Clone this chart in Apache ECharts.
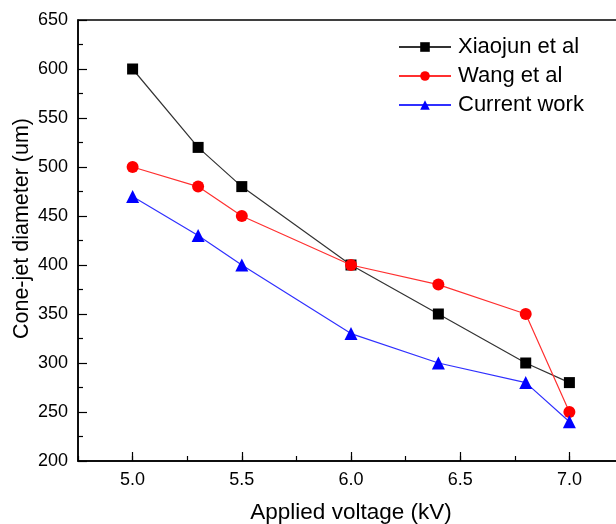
<!DOCTYPE html>
<html>
<head>
<meta charset="utf-8">
<script src="https://cdn.jsdelivr.net/npm/echarts@6/dist/echarts.min.js"></script>
<style>
  html, body { margin: 0; padding: 0; background: #fff; overflow: hidden; }
  #chart { width: 624px; height: 524px; }
</style>
</head>
<body>
<div id="chart"></div>
<script>
// Applied voltage (kV) for each measurement
const voltages = [5.0, 5.3, 5.5, 6.0, 6.4, 6.8, 7.0];
// Cone-jet diameter (um) per data source
const xiaojun = [600, 520, 480, 400, 350, 300, 280];
const wang = [500, 480, 450, 400, 380, 350, 250];
const currentWork = [470, 430, 400, 330, 300, 280, 240];

const seriesNames = ['Xiaojun et al', 'Wang et al', 'Current work'];
// Labelled voltage ticks
const voltageTicks = [5.0, 5.5, 6.0, 6.5, 7.0];

const pairs = (ys) => voltages.map((v, i) => [v, ys[i]]);

const font = 'Liberation Sans, Arial, sans-serif';

const chart = echarts.init(document.getElementById('chart'), null, { renderer: 'canvas' });

chart.setOption({
  backgroundColor: '#ffffff',
  animation: false,
  grid: {
    left: 78, right: 0, top: 20, bottom: 63,
    containLabel: false, outerBoundsMode: 'none',
    show: true, borderColor: '#000', borderWidth: 1.5, backgroundColor: 'transparent'
  },
  legend: {
    orient: 'vertical',
    left: 393, top: 31,
    itemWidth: 52, itemHeight: 12, itemGap: 7,
    textStyle: { fontFamily: font, fontSize: 22, color: '#000', padding: [0, 0, 0, 2] },
    data: seriesNames
  },
  xAxis: [
    {
      type: 'value',
      min: 4.75, max: 7.25, interval: 0.25,
      name: 'Applied voltage (kV)',
      nameLocation: 'middle', nameGap: 40, nameMoveOverlap: false,
      nameTextStyle: { fontFamily: font, fontSize: 22.5, color: '#000' },
      axisLine: { lineStyle: { color: '#000', width: 1.5 } },
      axisTick: { inside: true, length: 9, customValues: voltageTicks, lineStyle: { color: '#000', width: 1.2 } },
      splitLine: { show: false },
      axisLabel: {
        fontFamily: font, fontSize: 18, color: '#000', margin: 10,
        customValues: voltageTicks,
        formatter: (v) => v.toFixed(1)
      }
    },
    {
      // short minor ticks every 0.25 kV
      type: 'value', position: 'bottom',
      min: 4.75, max: 7.25, interval: 0.25,
      axisLine: { show: false },
      axisTick: { inside: true, length: 5, lineStyle: { color: '#000', width: 1.2 } },
      axisLabel: { show: false },
      splitLine: { show: false }
    }
  ],
  yAxis: {
    type: 'value',
    min: 200, max: 650, interval: 50,
    name: 'Cone-jet diameter (um)',
    nameLocation: 'middle', nameGap: 45, nameMoveOverlap: false,
    nameTextStyle: { fontFamily: font, fontSize: 21.5, color: '#000', padding: [0, 0, 0, 24] },
    axisLine: { lineStyle: { color: '#000', width: 1.5 } },
    axisTick: { inside: true, length: 9, lineStyle: { color: '#000', width: 1.2 } },
    minorTick: { show: true, splitNumber: 2, length: 5, lineStyle: { color: '#000', width: 1.2 } },
    splitLine: { show: false },
    axisLabel: { fontFamily: font, fontSize: 18, color: '#000', margin: 10 }
  },
  series: [
    {
      name: seriesNames[0], type: 'line', data: pairs(xiaojun),
      symbol: 'rect', symbolSize: 11,
      lineStyle: { color: '#333', width: 1.2 },
      itemStyle: { color: '#000' }, z: 2
    },
    {
      name: seriesNames[1], type: 'line', data: pairs(wang),
      symbol: 'circle', symbolSize: 12,
      lineStyle: { color: '#ff3030', width: 1.2 },
      itemStyle: { color: '#ff0000' }, z: 3
    },
    {
      name: seriesNames[2], type: 'line', data: pairs(currentWork),
      symbol: 'triangle', symbolSize: 13,
      lineStyle: { color: '#3030ff', width: 1.2 },
      itemStyle: { color: '#0000ff' }, z: 4
    }
  ]
});
</script>
</body>
</html>
